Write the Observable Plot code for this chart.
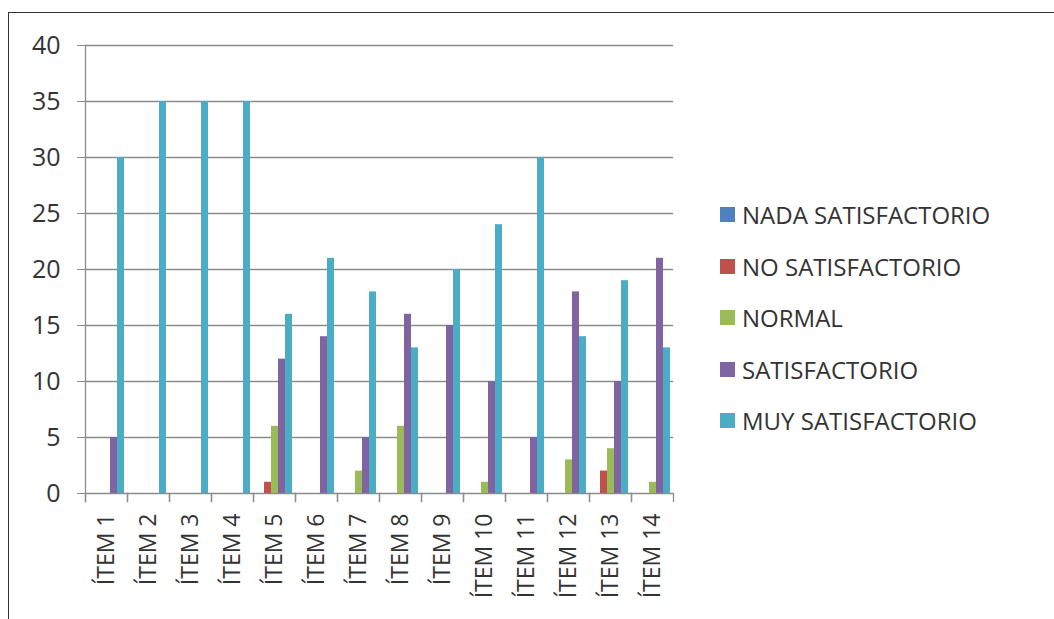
<!DOCTYPE html>
<html><head><meta charset="utf-8">
<script src="https://cdn.jsdelivr.net/npm/d3@7"></script>
<script src="https://cdn.jsdelivr.net/npm/@observablehq/plot@0.6"></script>
<style>
body{margin:0;background:#fff;font-family:"Open Sans",Lato,sans-serif;}
#wrap{position:relative;width:1054px;height:619px;overflow:hidden;background:#fff;}
#border{position:absolute;left:8px;top:12px;width:2000px;height:1000px;border-left:1.5px solid #333;border-top:1.5px solid #333;}
#chart{position:absolute;left:0;top:0;}
#legend{position:absolute;left:720px;top:189px;}
.row{display:flex;align-items:center;height:51.5px;font-size:24px;color:#333;white-space:nowrap;}
.sw{width:15px;height:15px;margin-right:7px;}
</style></head>
<body>
<div id="wrap"><div id="border"></div><div id="chart"></div><div id="legend"></div></div>
<script>
const items = ["ÍTEM 1","ÍTEM 2","ÍTEM 3","ÍTEM 4","ÍTEM 5","ÍTEM 6","ÍTEM 7","ÍTEM 8","ÍTEM 9","ÍTEM 10","ÍTEM 11","ÍTEM 12","ÍTEM 13","ÍTEM 14"];
const series = ["NADA SATISFACTORIO","NO SATISFACTORIO","NORMAL","SATISFACTORIO","MUY SATISFACTORIO"];
const nadaSatisfactorio = [0,0,0,0,0,0,0,0,0,0,0,0,0,0];
const noSatisfactorio   = [0,0,0,0,1,0,0,0,0,0,0,0,2,0];
const normal            = [0,0,0,0,6,0,2,6,0,1,0,3,4,1];
const satisfactorio     = [5,0,0,0,12,14,5,16,15,10,5,18,10,21];
const muySatisfactorio  = [30,35,35,35,16,21,18,13,20,24,30,14,19,13];
const yTicks = [0,5,10,15,20,25,30,35,40];
const colors = ["#4F81BD","#C0504D","#9BBB59","#8064A2","#4BACC6"];

const values = [nadaSatisfactorio, noSatisfactorio, normal, satisfactorio, muySatisfactorio];
const table = [];
items.forEach((it, i) => series.forEach((s, k) => table.push({item: it, series: s, value: values[k][i]})));

const grey = "#8c8c8c";
const chart = Plot.plot({
  width: 1054, height: 619,
  marginLeft: 83, marginRight: 379, marginTop: 45, marginBottom: 126,
  style: {fontFamily: "'Open Sans', Lato, sans-serif", background: "transparent"},
  fx: {domain: items, padding: 0, label: null, axis: null},
  x: {domain: series, paddingInner: 0, paddingOuter: 0.5, axis: null},
  y: {domain: [0, 40], label: null},
  color: {domain: series, range: colors},
  marks: [
    Plot.gridY(yTicks, {stroke: grey, strokeOpacity: 1, strokeWidth: 1.3}),
    Plot.barY(table, {fx: "item", x: "series", y: "value", fill: "series"}),
    Plot.axisY(yTicks, {tickSize: 8, tickPadding: 17, stroke: grey, strokeOpacity: 1, fill: "#333", fontSize: 25, label: null}),
    Plot.frame({anchor: "left", facetAnchor: "left", stroke: grey, strokeWidth: 1.3, insetBottom: -8}),
    Plot.axisFx({anchor: "bottom", tickRotate: -90, tickSize: 0, tickPadding: 20, fontSize: 23, fill: "#333", label: null}),
    Plot.frame({anchor: "left", stroke: grey, strokeWidth: 1.3, insetTop: 448, insetBottom: -8}),
    Plot.frame({anchor: "right", stroke: grey, strokeWidth: 1.3, insetTop: 448, insetBottom: -8})
  ]
});
document.getElementById("chart").appendChild(chart);

const lg = document.getElementById("legend");
series.forEach((s, k) => {
  const r = document.createElement("div"); r.className = "row";
  r.innerHTML = `<div class="sw" style="background:${colors[k]}"></div><span>${s}</span>`;
  lg.appendChild(r);
});
</script>
</body></html>
